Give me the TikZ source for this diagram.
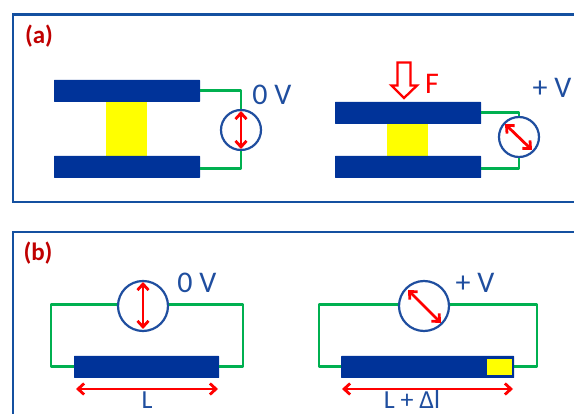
\documentclass[tikz,border=0pt]{standalone}
\usepackage{fontspec}
\setmainfont{Carlito}
\usetikzlibrary{arrows.meta}
\definecolor{navy}{HTML}{003399}
\definecolor{framec}{HTML}{1450A0}
\definecolor{wire}{HTML}{00B050}
\definecolor{redl}{HTML}{C00000}
\definecolor{volt}{HTML}{1F4E9F}
\definecolor{yel}{HTML}{FFFF00}
\definecolor{pure}{HTML}{FF0000}
\tikzset{
  x=1pt,y=-1pt,
  plate/.style={fill=navy,draw=none,minimum width=#1,minimum height=22pt,inner sep=0pt,rounded corners=0.5pt},
  plate/.default=146pt,
  spacer/.style={fill=yel,draw=none,inner sep=0pt},
  meter/.style={circle,draw=volt,line width=2.2pt,fill=white,inner sep=0pt,minimum size=#1},
  wiring/.style={draw=wire,line width=2.6pt,line join=round},
  frameline/.style={draw=framec,line width=2.4pt,line join=miter},
  needle/.style={draw=pure,line width=2.8pt,{Straight Barb[length=6pt,width=11pt]}-{Straight Barb[length=6pt,width=11pt]}},
  tag/.style={text=redl,font=\fontsize{25}{25}\selectfont\bfseries,inner sep=0pt},
  volts/.style={text=volt,font=\fontsize{30}{30}\selectfont,inner sep=0pt},
  lenlab/.style={text=volt,font=\fontsize{26}{26}\selectfont,inner sep=0pt},
}
\begin{document}
\begin{tikzpicture}
\fill[white] (0,0) rectangle (574,414);
\useasboundingbox (0,0) rectangle (574,414);
% frames
\coordinate (fa1) at (574,14.5); \coordinate (fa2) at (13,14.5);
\coordinate (fa3) at (13,202); \coordinate (fa4) at (574,202);
\draw[frameline] (fa1) -- (fa2) -- (fa3) -- (fa4);
\coordinate (fb1) at (574,232); \coordinate (fb2) at (13,232); \coordinate (fb3) at (13,414);
\draw[frameline] (fb1) -- (fb2) -- (fb3);
\node[tag] (la) at (39,36) {(a)};
\node[tag] (lb) at (38,253) {(b)};
% a left
\node[spacer,minimum width=41pt,minimum height=56pt] (ya) at (126.5,129) {};
\node[plate] (pa1) at (127,91) {};
\node[plate] (pa2) at (127,167) {};
\node[meter=40pt] (ma) at (241,130) {};
\draw[wiring] (pa1.east) ++(0,-0.5) coordinate (wa1) -| (ma.north);
\draw[wiring] (pa2.east) ++(0,1.5) coordinate (wa2) -| (ma.south);
\coordinate (na1) at (241,111); \coordinate (na2) at (241,149);
\draw[needle] (na1) -- (na2);
\node[volts] (va) at (272,95) {0 V};
% a right
\node[spacer,minimum width=41pt,minimum height=34pt] (yb) at (407.5,140) {};
\node[plate] (pb1) at (408,113) {};
\node[plate] (pb2) at (408,167) {};
\node[meter=40pt] (mb) at (519,137) {};
\draw[wiring] (pb1.east) ++(0,-0.5) coordinate (wb1) -| (mb.north);
\draw[wiring] (pb2.east) ++(0,1.5) coordinate (wb2) -| (mb.south);
\coordinate (nb1) at (505,124); \coordinate (nb2) at (532,150);
\draw[needle] (nb1) -- (nb2);
\node[volts] (vb) at (552,88) {+ V};
\coordinate (fh) at (404,98);
\draw[draw=pure,fill=white,line width=2.3pt,line join=miter]
  (397.5,62.5) -- (410.5,62.5) -- (410.5,85.5) -- (417,85.5) -- (fh) -- (391.5,85.5) -- (397.5,85.5) -- cycle;
\node[text=pure,font=\fontsize{30}{30}\selectfont,inner sep=0pt] (ff) at (432,84) {F};
% b left
\node[meter=50pt] (mc) at (143,306) {};
\node[plate=145pt] (pc) at (146.5,367) {};
\coordinate (wc1) at (51,304.5); \coordinate (wc2) at (51,366.5);
\coordinate (wc3) at (243,304.5); \coordinate (wc4) at (243,366.5);
\draw[wiring] (mc.west |- wc1) -- (wc1) -- (wc2) -- (wc2 -| pc.west);
\draw[wiring] (mc.east |- wc3) -- (wc3) -- (wc4) -- (wc4 -| pc.east);
\coordinate (nc1) at (143,282); \coordinate (nc2) at (143,329);
\draw[needle] (nc1) -- (nc2);
\node[volts] (vc) at (197,283) {0 V};
\coordinate (ac1) at (76,389); \coordinate (ac2) at (218,389);
\draw[needle] (ac1) -- (ac2);
\node[lenlab,anchor=base] (lc) at (147,409) {L};
% b right
\node[meter=50pt] (md) at (424,306) {};
\node[plate=173pt] (pd) at (427.5,367) {};
\node[spacer,minimum width=25pt,minimum height=16pt] (yd) at (499.5,367) {};
\coordinate (wd1) at (319,304.5); \coordinate (wd2) at (319,366.5);
\coordinate (wd3) at (537,304.5); \coordinate (wd4) at (537,366.5);
\draw[wiring] (md.west |- wd1) -- (wd1) -- (wd2) -- (wd2 -| pd.west);
\draw[wiring] (md.east |- wd3) -- (wd3) -- (wd4) -- (wd4 -| pd.east);
\coordinate (nd1) at (408,290); \coordinate (nd2) at (441,323);
\draw[needle] (nd1) -- (nd2);
\node[volts] (vd) at (475,283) {+ V};
\coordinate (ad1) at (342,389); \coordinate (ad2) at (513,389);
\draw[needle] (ad1) -- (ad2);
\node[lenlab,anchor=base] (ld) at (412,409) {L + Δl};
\end{tikzpicture}
\end{document}
